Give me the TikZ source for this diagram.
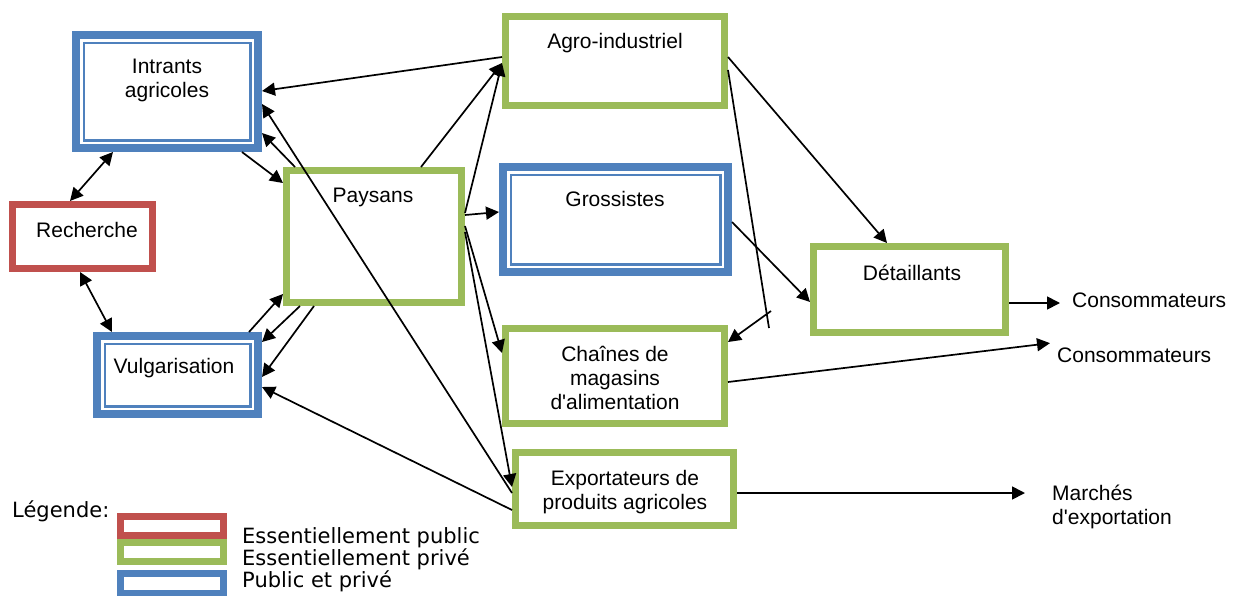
\documentclass[tikz,border=0pt]{standalone}
\usepackage{fontspec}
\setmainfont{Liberation Sans}[Ligatures=TeXOff]
\newfontfamily\legfont{DejaVu Sans}[Ligatures=TeXOff]
\usetikzlibrary{arrows.meta}
\definecolor{bblue}{HTML}{4F81BD}
\definecolor{bred}{HTML}{C0504D}
\definecolor{bgreen}{HTML}{9BBB59}

% box from its outer edges: style, name, line width, x1, y1, x2, y2
\newcommand\boxat[7]{%
  \pgfmathsetmacro\bcx{(#4+#6)/2}\pgfmathsetmacro\bcy{(#5+#7)/2}%
  \pgfmathsetmacro\bw{#6-#4-#3}\pgfmathsetmacro\bh{#7-#5-#3}%
  \pgfmathsetmacro\bos{#3/2}%
  \node[#1, line width=#3pt, outer sep=\bos pt, minimum width=\bw pt,
        minimum height=\bh pt] (#2) at (\bcx,\bcy) {};}
% thin inner rule of a thick-thin frame
\newcommand\innerrule[1]{%
  \draw[bblue, line width=2.5pt] ([shift={(11.75pt,-11.75pt)}]#1.north west)
    rectangle ([shift={(-11.75pt,11.75pt)}]#1.south east);}

\begin{document}
\begin{tikzpicture}[x=1pt,y=-1pt,
  redbox/.style={draw=bred, fill=white, inner sep=0},
  greenbox/.style={draw=bgreen, fill=white, inner sep=0},
  bluebox/.style={draw=bblue, fill=white, inner sep=0},
  txt/.style={inner sep=0, font=\fontsize{21}{24}\selectfont, align=center},
  legtxt/.style={inner sep=0, font=\legfont\fontsize{21}{22}\selectfont, align=left},
  tip/.tip={Triangle[length=13pt,width=13pt]},
  ln/.style={line width=1.7pt},
  arr/.style={ln, -tip},
  darr/.style={ln, tip-tip},
]
\path[use as bounding box, clip] (0,0) rectangle (1239,595);

% actors
\boxat{bluebox}{intr}{8}{72}{31}{262}{152}
\boxat{redbox}{rech}{7}{9}{201}{156}{272}
\boxat{bluebox}{vulg}{8}{93}{332}{262}{418}
\boxat{greenbox}{pays}{7}{283}{167}{465}{306}
\boxat{greenbox}{agro}{7}{502}{13}{728}{109}
\boxat{bluebox}{gros}{8}{499}{163}{732}{276}
\boxat{greenbox}{deta}{7}{810}{243}{1009}{336}
\boxat{greenbox}{chai}{7}{502}{325}{728}{427}
\boxat{greenbox}{expo}{7}{512}{449}{737}{529}
\innerrule{intr}
\innerrule{vulg}
\innerrule{gros}

% legend swatches
\boxat{redbox}{legpub}{7}{117}{513}{227}{539}
\boxat{greenbox}{legpriv}{7}{117}{539}{227}{565}
\boxat{bluebox}{legmix}{7}{117}{570}{227}{597}

% labels
\node[txt, anchor=north] (intrT) at (167,59) {Intrants\\agricoles};
\node[txt, anchor=base] (rechT) at (87,237) {Recherche};
\node[txt, anchor=base] (vulgT) at (174,373) {Vulgarisation};
\node[txt, anchor=base] (paysT) at (373,202) {Paysans};
\node[txt, anchor=base] (agroT) at (615,48) {Agro-industriel};
\node[txt, anchor=base] (grosT) at (615,206) {Grossistes};
\node[txt, anchor=base] (detaT) at (912,280) {Détaillants};
\node[txt, anchor=north] (chaiT) at (615,346) {Chaînes de\\magasins\\d'alimentation};
\node[txt, anchor=north] (expoT) at (625,470) {Exportateurs de\\produits agricoles};
\node[txt, anchor=base west, inner xsep=12pt] (cons1) at (1060,307) {Consommateurs};
\node[txt, anchor=base west] (cons2) at (1057,362) {Consommateurs};
\node[txt, anchor=north west, align=left] (march) at (1052,485) {Marchés\\d'exportation};
\node[legtxt, anchor=base west] (legtitle) at (12,517) {Légende:};
\node[legtxt, anchor=north west] (legtext) at (242,527.5)
  {Essentiellement public\\Essentiellement privé\\Public et privé};

% flows
\draw[darr] ([xshift=61pt]rech.north west) -- ([xshift=41pt]intr.south west);
\draw[darr] ([xshift=71pt]rech.south west) -- ([xshift=19pt]vulg.north west);
\draw[arr] ([xshift=170pt]intr.south west) -- ([yshift=-16pt]pays.north west);
\draw[arr] ([xshift=12pt]pays.north west) -- ([yshift=-102pt]intr.north east);
\draw[arr] ([yshift=-44pt]expo.north west) -- ([yshift=-73pt]intr.north east);
\draw[arr] ([yshift=-44pt]agro.north west) -- ([yshift=-60pt]intr.north east);
\draw[arr] ([xshift=138pt]pays.north west) -- ([yshift=-50pt]agro.north west);
\draw[arr] ([yshift=-46pt]pays.north east) -- ([yshift=-50pt]agro.north west);
\draw[arr] ([yshift=-48pt]pays.north east) -- ([yshift=-49pt]gros.north west);
\draw[arr] ([yshift=-59pt]pays.north east) -- ([yshift=-28pt]chai.north west);
\draw[arr] ([yshift=-65pt]pays.north east) -- ([yshift=-38pt]expo.north west);
\draw[arr] ([xshift=156pt]vulg.north west) -- ([yshift=-127pt]pays.north west);
\draw[arr] ([xshift=17pt]pays.south west) -- ([yshift=-10pt]vulg.north east);
\draw[arr] ([xshift=31pt]pays.south west) -- ([yshift=-45pt]vulg.north east);
\draw[arr] ([yshift=-61pt]expo.north west) -- ([yshift=-55pt]vulg.north east);
\draw[arr] ([yshift=-44pt]agro.north east) -- ([xshift=77pt]deta.north west);
\coordinate (bend) at (769,328);
\coordinate (fork) at (771,311);
\draw[ln] ([yshift=-57pt]agro.north east) -- (bend);
\draw[arr] (fork) -- ([yshift=-17pt]chai.north east);
\draw[arr] ([yshift=-59pt]gros.north east) -- ([yshift=-59pt]deta.north west);
\coordinate (c1in) at ([yshift=4pt]cons1.base west);
\draw[arr] (deta.east |- c1in) -- (c1in);
\draw[arr] ([yshift=-57pt]chai.north east) -- ([xshift=-7pt,yshift=4pt]cons2.north west);
\draw[arr] ([yshift=-44pt]expo.north east) -- ([xshift=-27pt,yshift=-8pt]march.north west);
\end{tikzpicture}
\end{document}
